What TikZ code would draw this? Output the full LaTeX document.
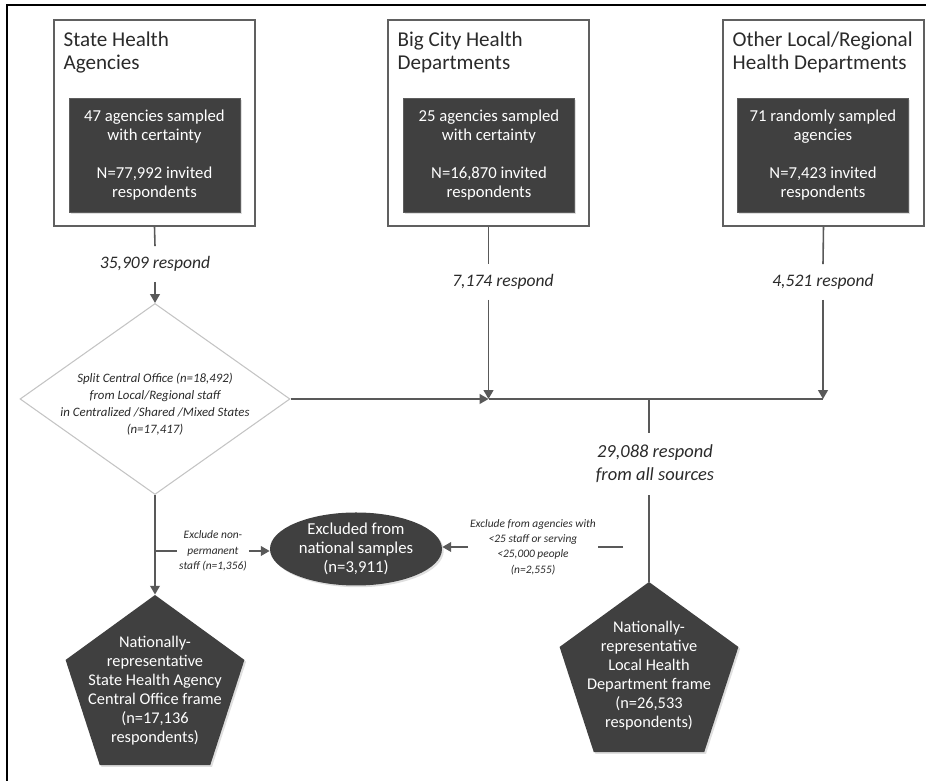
\documentclass[tikz,border=0pt]{standalone}
\usepackage{fontspec}
\setmainfont{Carlito}
\usetikzlibrary{arrows.meta,shapes.geometric,shadows}
\definecolor{darkfill}{HTML}{404040}
\definecolor{wire}{HTML}{595959}
\definecolor{edge}{HTML}{606060}
\definecolor{soft}{HTML}{C4C4C4}
\definecolor{ink}{HTML}{2A2A2A}
\begin{document}
\begin{tikzpicture}[
	srcbox/.style={shape=rectangle, draw=edge, line width=0.8pt, minimum width=4.02cm, minimum height=4.12cm},
	srctitle/.style={anchor=north west, align=left, inner sep=0pt, text=ink, font=\fontsize{12}{13}\selectfont},
	darkbox/.style={shape=rectangle, fill=darkfill, draw=darkfill!85, minimum width=3.42cm, minimum height=2.28cm, text=white, align=center, font=\fontsize{9.5}{10.8}\selectfont, drop shadow={shadow xshift=1pt, shadow yshift=-1pt, opacity=0.25}},
	resp/.style={align=center, inner sep=0pt, minimum height=0.7cm, text=ink, font=\fontsize{10}{13}\selectfont\itshape},
	splitbox/.style={shape=diamond, draw=soft, line width=0.6pt, fill=white, minimum width=5.4cm, minimum height=3.82cm, inner sep=0pt},
	splittext/.style={align=center, inner sep=0pt, text=ink, font=\fontsize{7.3}{9.7}\selectfont\itshape},
	exclbox/.style={shape=ellipse, fill=darkfill, minimum width=3.44cm, minimum height=1.46cm, inner sep=0pt, drop shadow={shadow xshift=1pt, shadow yshift=-1pt, opacity=0.25}},
	excltext/.style={align=center, inner sep=0pt, text=white, font=\fontsize{9.5}{11}\selectfont},
	exclnote/.style={align=center, inner sep=1pt, text=ink, font=\fontsize{6.5}{8.7}\selectfont\itshape},
	framebox/.style={shape=regular polygon, regular polygon sides=5, fill=darkfill, minimum size=3.76cm, inner sep=0pt, drop shadow={shadow xshift=1pt, shadow yshift=-1pt, opacity=0.25}},
	frametext/.style={align=center, inner sep=0pt, text=white, font=\fontsize{9.3}{10.8}\selectfont},
	wires/.style={draw=wire, line width=0.9pt},
	tip/.style={-{Triangle[length=5pt, width=5.5pt]}}
]
	% Paths, nodes and wires:
	\useasboundingbox (0, 0) rectangle (18.52, 15.62);
	\draw[line width=1pt] (0.14, 0) -- (0.14, 15.52) -- (18.52, 15.52);
	\node[srcbox] (sha) at (3.09, 13.16){} node[srctitle] (shaT) at ([shift={(0.2,-0.24)}]sha.north west){State Health\\Agencies};
	\node[darkbox] (shaS) at (3.09, 12.52){47 agencies sampled\\with certainty\\[10.8pt]N=77,992 invited\\respondents};
	\node[srcbox] (bch) at (9.77, 13.16){} node[srctitle] (bchT) at ([shift={(0.2,-0.24)}]bch.north west){Big City Health\\Departments};
	\node[darkbox] (bchS) at (9.78, 12.52){25 agencies sampled\\with certainty\\[10.8pt]N=16,870 invited\\respondents};
	\node[srcbox] (olh) at (16.47, 13.16){} node[srctitle] (olhT) at ([shift={(0.2,-0.24)}]olh.north west){Other Local/Regional\\Health Departments};
	\node[darkbox] (olhS) at (16.46, 12.52){71 randomly sampled\\agencies\\[10.8pt]N=7,423 invited\\respondents};
	\node[resp] (shaR) at (3.10, 10.34){35,909 respond};
	\node[resp] (bchR) at (10.06, 9.98){7,174 respond};
	\node[resp] (olhR) at (16.46, 9.98){4,521 respond};
	\node[splitbox] (split) at (3.10, 7.64){} node[splittext] (splitT) at (3.10, 7.54){Split Central Office (n=18,492)\\from Local/Regional staff\\in Centralized /Shared /Mixed States\\(n=17,417)};
	\coordinate (bchJ) at (bch.south |- split.east);
	\coordinate (olhJ) at (olhR.south |- split.east);
	\coordinate (allJ) at (12.98, 7.64);
	\node[resp, minimum height=1.24cm, font=\fontsize{10.5}{13}\selectfont\itshape] (allR) at (13.10, 6.34){29,088 respond\\from all sources};
	\node[exclbox] (excl) at (7.12, 4.64){} node[excltext] (exclT) at (7.12, 4.64){Excluded from\\national samples\\(n=3,911)};
	\node[framebox] (shaF) at (3.10, 1.84){} node[frametext] (shaFT) at (3.10, 1.81){Nationally-\\representative\\State Health Agency\\Central Office frame\\(n=17,136\\respondents)};
	\node[framebox] (lhdF) at (12.98, 2.10){} node[frametext] (lhdFT) at (12.98, 2.11){Nationally-\\representative\\Local Health\\Department frame\\(n=26,533\\respondents)};
	\node[exclnote] (ntL) at (4.26, 4.60){Exclude non-\\permanent\\staff (n=1,356)};
	\node[exclnote] (ntR) at (10.66, 4.68){Exclude from agencies with\\<25 staff or serving\\<25,000 people\\(n=2,555)};
	\coordinate (shaX) at (split.south |- ntL.west);
	\coordinate (lhdX) at (12.46, 4.68);
	\draw[wires] (sha.south) -- (shaR.north);
	\draw[wires, tip] (shaR.south) -- (split.north);
	\draw[wires] (bch.south) -- (bch.south |- bchR.north);
	\draw[wires, tip] (bch.south |- bchR.south) -- (bchJ);
	\draw[wires] (olh.south) -- (olhR.north);
	\draw[wires, tip] (olhR.south) -- (olhJ);
	\draw[wires, tip] (split.east) -- (bchJ);
	\draw[wires] (bchJ) -- (olhJ);
	\draw[wires] (allJ) -- (allJ |- allR.north);
	\draw[wires] (allJ |- allR.south) -- (lhdF.north);
	\draw[wires, tip] (split.south) -- (shaF.north);
	\draw[wires] (shaX) -- (ntL.west);
	\draw[wires, tip] (ntL.east) -- (ntL.east -| excl.west);
	\draw[wires] (lhdX) -- (ntR.east);
	\draw[wires, tip] (ntR.west) -- (ntR.west -| excl.east);
\end{tikzpicture}
\end{document}
